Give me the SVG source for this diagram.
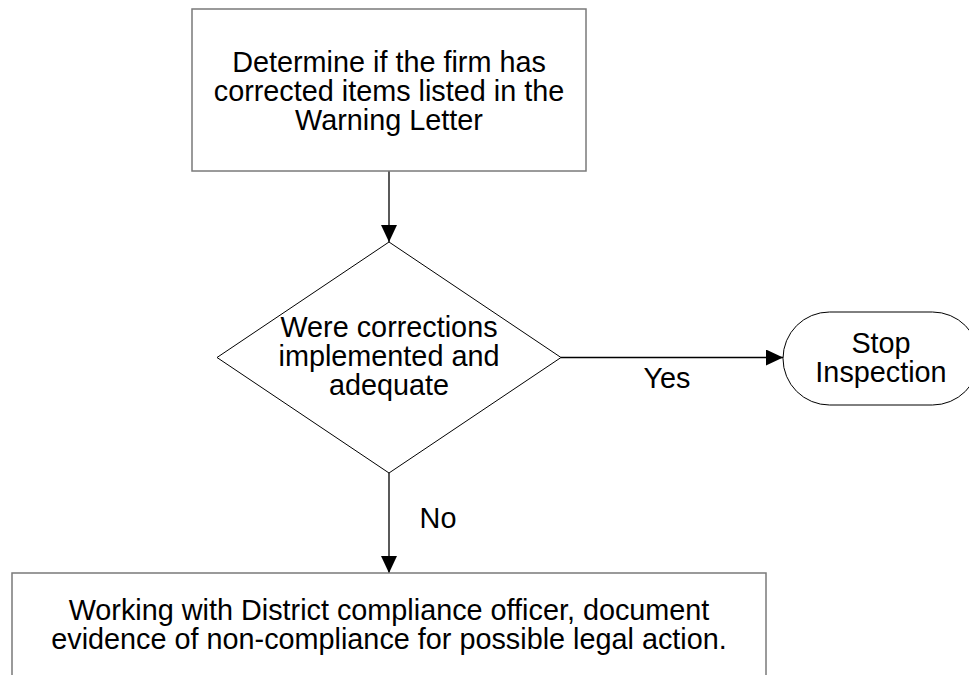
<svg xmlns="http://www.w3.org/2000/svg" width="969" height="675" viewBox="0 0 969 675">
  <defs>
    <style>
      .box { fill: #ffffff; stroke: #7a7a7a; stroke-width: 1.5; }
      .shape { fill: #ffffff; stroke: #000000; stroke-width: 1; }
      .conn { fill: none; stroke: #000000; stroke-width: 1.3; }
      .t { font-family: "Liberation Sans", Arial, sans-serif; font-size: 28.8px; fill: #000000; text-anchor: middle; }
    </style>
    <marker id="arrow" markerUnits="userSpaceOnUse" markerWidth="18" markerHeight="16" refX="17" refY="8" orient="auto">
      <path d="M0,0 L17,8 L0,16 Z" fill="#000000"/>
    </marker>
  </defs>
  <rect width="969" height="675" fill="#ffffff"/>

  <g id="connectors">
    <path class="conn" d="M389,171 L389,242" marker-end="url(#arrow)"/>
    <path class="conn" d="M561,357.5 L783,357.5" marker-end="url(#arrow)"/>
    <path class="conn" d="M389,473 L389,573" marker-end="url(#arrow)"/>
    <text class="t" x="667" y="388">Yes</text>
    <text class="t" x="438" y="528">No</text>
  </g>

  <g id="determine">
    <rect class="box" x="192" y="9" width="394" height="162"/>
    <text class="t" x="389" y="72">Determine if the firm has</text>
    <text class="t" x="389" y="101">corrected items listed in the</text>
    <text class="t" x="389" y="130">Warning Letter</text>
  </g>

  <g id="decision">
    <polygon class="shape" points="389,242 561,357.5 389,473 217,357.5"/>
    <text class="t" x="389" y="337">Were corrections</text>
    <text class="t" x="389" y="366">implemented and</text>
    <text class="t" x="389" y="395">adequate</text>
  </g>

  <g id="stop">
    <rect class="shape" x="783" y="312" width="196" height="93" rx="46.5" ry="46.5"/>
    <text class="t" x="881" y="353">Stop</text>
    <text class="t" x="881" y="382">Inspection</text>
  </g>

  <g id="document">
    <rect class="box" x="12" y="573" width="754" height="130"/>
    <text class="t" x="389" y="620">Working with District compliance officer, document</text>
    <text class="t" x="389" y="649">evidence of non-compliance for possible legal action.</text>
  </g>
</svg>
